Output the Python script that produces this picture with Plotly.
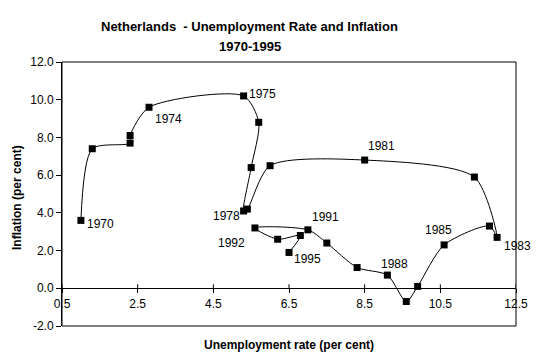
import plotly.graph_objects as go

years = list(range(1970, 1996))
unemployment = [1.0, 1.3, 2.3, 2.3, 2.8, 5.3, 5.7, 5.5, 5.3, 5.4, 6.0, 8.5, 11.4,
                12.0, 11.8, 10.6, 9.9, 9.6, 9.1, 8.3, 7.5, 7.0, 5.6, 6.2, 6.8, 6.5]
inflation = [3.6, 7.4, 7.7, 8.1, 9.6, 10.2, 8.8, 6.4, 4.1, 4.2, 6.5, 6.8, 5.9,
             2.7, 3.3, 2.3, 0.1, -0.7, 0.7, 1.1, 2.4, 3.1, 3.2, 2.6, 2.8, 1.9]
x_ticks = [0.5, 2.5, 4.5, 6.5, 8.5, 10.5, 12.5]
y_ticks = [-2.0, 0.0, 2.0, 4.0, 6.0, 8.0, 10.0, 12.0]
labelled_years = [1970, 1974, 1975, 1978, 1981, 1983, 1985, 1988, 1991, 1992, 1995]

# label placement style: (xanchor, xshift, yshift)
label_style = {
    1970: ("left", 4, -4),
    1974: ("left", 4, -12),
    1975: ("left", 3, 2),
    1978: ("right", -2, -5),
    1981: ("left", 1, 14),
    1983: ("left", 5, -9),
    1985: ("center", -6, 15),
    1988: ("center", 7, 11),
    1991: ("left", 2, 13),
    1992: ("right", -8, -15),
    1995: ("left", 3, -7),
}

FONT = "Liberation Sans, Arial, sans-serif"

fig = go.Figure()
fig.add_trace(go.Scatter(
    x=unemployment, y=inflation, mode="lines+markers",
    line=dict(color="black", width=1, shape="spline", smoothing=0.75),
    marker=dict(symbol="square", size=7, color="black"),
    showlegend=False, hoverinfo="x+y",
))

annotations = []
for yr in labelled_years:
    i = years.index(yr)
    xa, xs, ys = label_style[yr]
    annotations.append(dict(
        x=unemployment[i], y=inflation[i], xref="x", yref="y",
        text=str(yr), showarrow=False, xanchor=xa, yanchor="middle",
        xshift=xs, yshift=ys, font=dict(family=FONT, size=12, color="black"),
    ))

annotations += [
    dict(text="<b>Netherlands  - Unemployment Rate and Inflation</b>", xref="paper", yref="paper",
         x=0.414, y=1.136, showarrow=False, xanchor="center", yanchor="middle",
         font=dict(family=FONT, size=13, color="black")),
    dict(text="<b>1970-1995</b>", xref="paper", yref="paper",
         x=0.414, y=1.0606, showarrow=False, xanchor="center", yanchor="middle",
         font=dict(family=FONT, size=13, color="black")),
    dict(text="<b>Unemployment rate (per cent)</b>", xref="paper", yref="paper",
         x=0.5, y=-0.072, showarrow=False, xanchor="center", yanchor="middle",
         font=dict(family=FONT, size=12, color="black")),
    dict(text="<b>Inflation (per cent)</b>", xref="paper", yref="paper",
         x=-0.0991, y=0.485, showarrow=False, xanchor="center", yanchor="middle",
         textangle=-90, font=dict(family=FONT, size=12, color="black")),
]

y_min, y_max = y_ticks[0], y_ticks[-1]
zero_pos = (0 - y_min) / (y_max - y_min)

# upward halves of the crossing tick marks on the x axis (which sits at y = 0)
shapes = [dict(type="rect", xref="paper", yref="paper", x0=0, x1=1, y0=0, y1=1,
               line=dict(color="black", width=1), layer="above")]
for t in x_ticks:
    shapes.append(dict(type="line", xref="x", x0=t, x1=t, yref="y",
                       ysizemode="pixel", yanchor=0, y0=0, y1=4,
                       line=dict(color="black", width=1), layer="above"))

# page body has an 8px margin, so the figure is 8px smaller than the window
fig.update_layout(
    width=533, height=353,
    margin=dict(l=54, r=25, t=54, b=35, autoexpand=False),
    paper_bgcolor="white", plot_bgcolor="white",
    font=dict(family=FONT, size=12, color="black"),
    annotations=annotations,
    xaxis=dict(range=[x_ticks[0], x_ticks[-1]], tickvals=x_ticks,
               ticktext=[f"{v:.1f}" for v in x_ticks],
               anchor="free", position=zero_pos, automargin=False,
               showline=True, linecolor="black", linewidth=1,
               ticks="outside", ticklen=4, tickcolor="black", tickwidth=1,
               showgrid=False, zeroline=False,
               tickfont=dict(family=FONT, size=12, color="black")),
    yaxis=dict(range=[y_min, y_max], tickvals=y_ticks, automargin=False,
               ticktext=[f"{v:.1f}" for v in y_ticks],
               showline=True, linecolor="black", linewidth=1,
               ticks="outside", ticklen=5, tickcolor="black", tickwidth=1,
               showgrid=False, zeroline=False,
               tickfont=dict(family=FONT, size=12, color="black")),
    shapes=shapes,
)

fig.write_html("out.html")
